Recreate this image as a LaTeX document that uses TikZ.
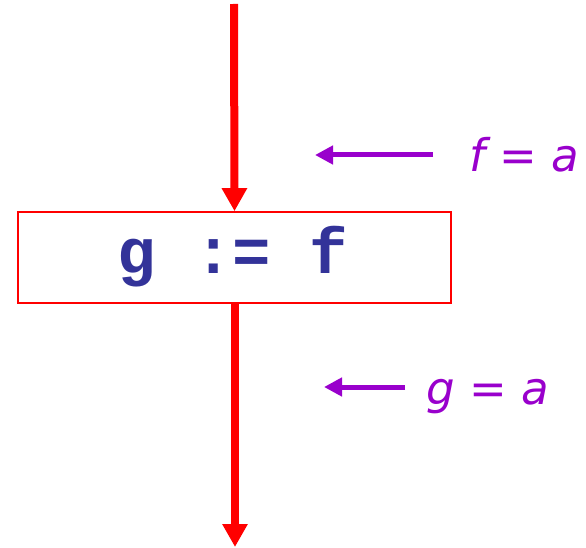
\documentclass[tikz,border=0pt]{standalone}
\usepackage{fontspec}
\newfontfamily\labfont{DejaVu Sans}
\newfontfamily\codefont{Liberation Mono}
\usetikzlibrary{arrows.meta}
\definecolor{flowred}{RGB}{255,0,0}
\definecolor{factpurple}{RGB}{153,0,204}
\definecolor{codeblue}{RGB}{51,51,153}
\tikzset{
  flow/.style={draw=flowred, line width=8pt, -{Triangle[length=23pt,width=24pt]}},
  fact/.style={draw=factpurple, line width=5pt, -{Triangle[length=18pt,width=18pt]}},
  stmt/.style={draw=flowred, line width=1.6pt, minimum width=433pt, minimum height=91pt, inner sep=0pt},
  factlabel/.style={text=factpurple, font=\labfont\itshape\fontsize{45}{52}\selectfont, anchor=base, inner sep=0pt}
}
\begin{document}
\begin{tikzpicture}[x=1pt,y=-1pt]
\useasboundingbox (0,0) rectangle (586,548);
\node[stmt] (box) at (234.5,257.5) {};
\node[text=codeblue, font=\codefont\bfseries\fontsize{64}{70}\selectfont, anchor=base, inner sep=0pt] (code) at (233,273) {g := f};
\coordinate (top) at (234,4);
\coordinate (bot) at (235,547);
\draw[flow] (top) -- (box.north);
\draw[flow] (box.south -| bot) -- (bot);
\coordinate (a1s) at (433,155);
\coordinate (a1e) at (315,155);
\draw[fact] (a1s) -- (a1e);
\node[factlabel] (l1) at (524,172) {f = a};
\coordinate (a2s) at (405,387);
\coordinate (a2e) at (324,387);
\draw[fact] (a2s) -- (a2e);
\node[factlabel] (l2) at (488,404) {g = a};
\end{tikzpicture}
\end{document}
